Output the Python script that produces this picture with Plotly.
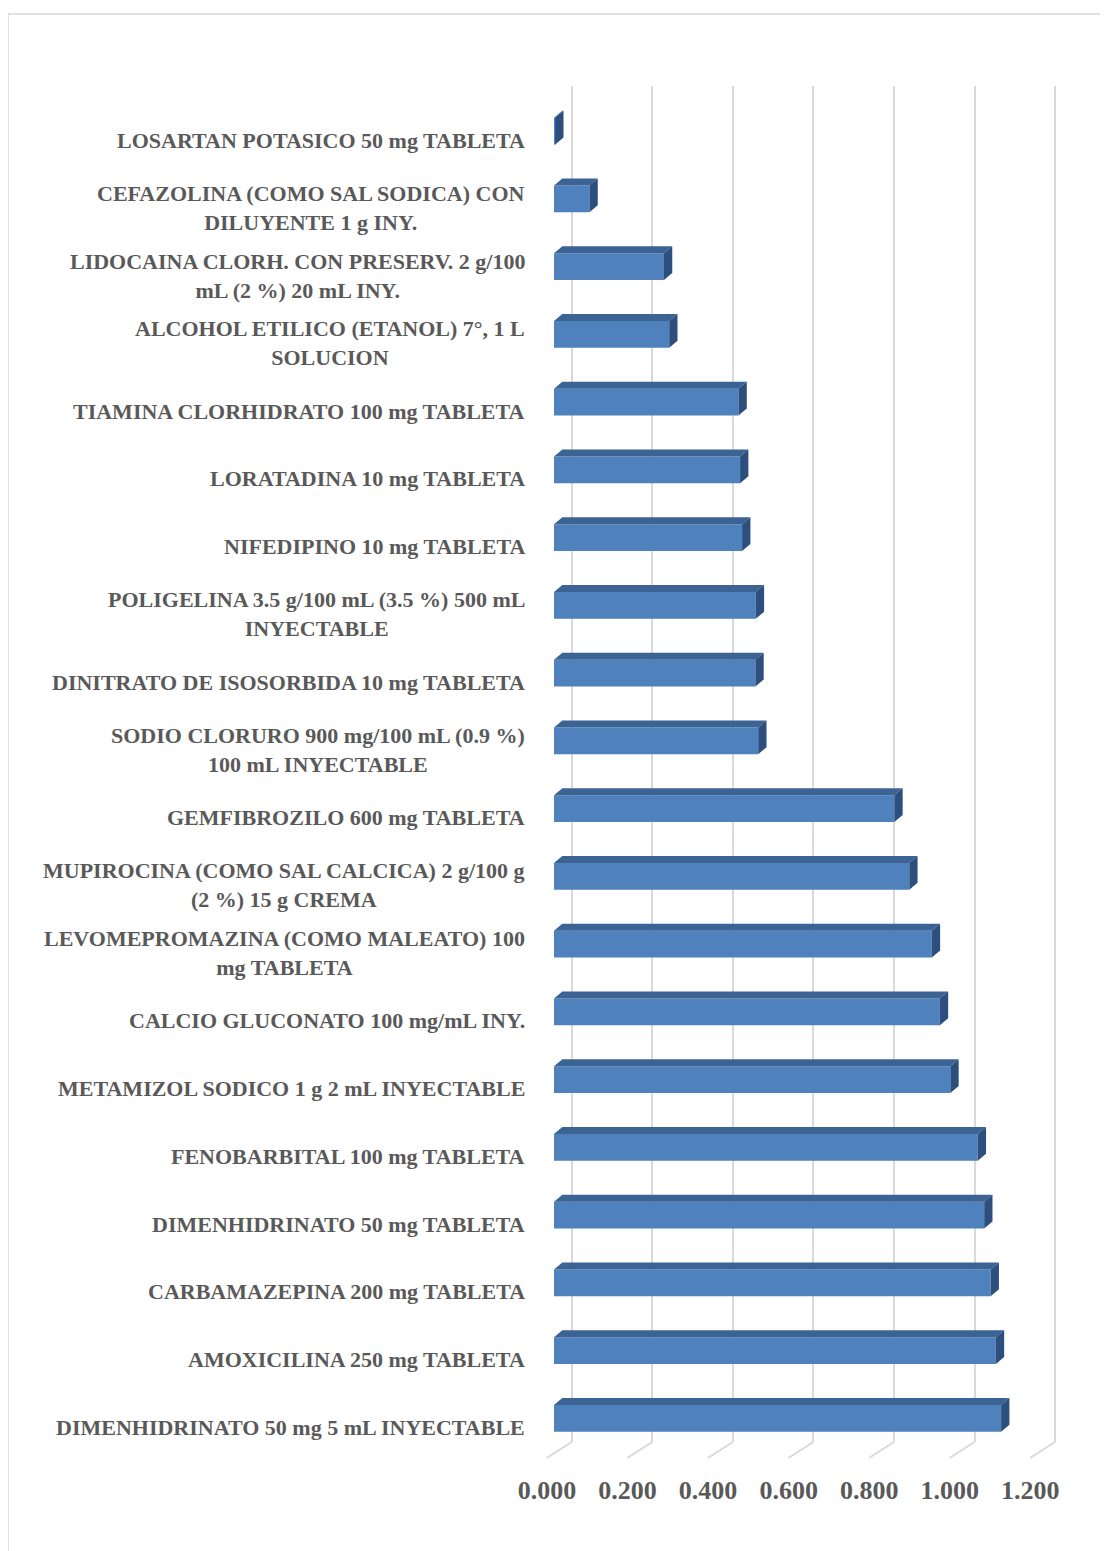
import plotly.graph_objects as go

# categories, top to bottom as shown
labels = [
    "LOSARTAN POTASICO 50 mg TABLETA",
    "CEFAZOLINA (COMO SAL SODICA) CON<br>DILUYENTE 1 g INY.",
    "LIDOCAINA CLORH. CON PRESERV. 2 g/100<br>mL (2 %) 20 mL INY.",
    "ALCOHOL ETILICO (ETANOL) 7°, 1 L<br>SOLUCION",
    "TIAMINA CLORHIDRATO 100 mg TABLETA",
    "LORATADINA 10 mg TABLETA",
    "NIFEDIPINO 10 mg TABLETA",
    "POLIGELINA 3.5 g/100 mL (3.5 %) 500 mL<br>INYECTABLE",
    "DINITRATO DE ISOSORBIDA 10 mg TABLETA",
    "SODIO CLORURO 900 mg/100 mL (0.9 %)<br>100 mL INYECTABLE",
    "GEMFIBROZILO 600 mg TABLETA",
    "MUPIROCINA (COMO SAL CALCICA) 2 g/100 g<br>(2 %) 15 g CREMA",
    "LEVOMEPROMAZINA (COMO MALEATO) 100<br>mg TABLETA",
    "CALCIO GLUCONATO 100 mg/mL INY.",
    "METAMIZOL SODICO 1 g 2 mL INYECTABLE",
    "FENOBARBITAL 100 mg TABLETA",
    "DIMENHIDRINATO 50 mg TABLETA",
    "CARBAMAZEPINA 200 mg TABLETA",
    "AMOXICILINA 250 mg TABLETA",
    "DIMENHIDRINATO 50 mg 5 mL INYECTABLE",
]
values = [0.003, 0.088, 0.273, 0.286, 0.458, 0.462, 0.467, 0.501, 0.500, 0.507,
          0.845, 0.882, 0.938, 0.958, 0.984, 1.052, 1.068, 1.084, 1.097, 1.110]
ticks = [0.0, 0.2, 0.4, 0.6, 0.8, 1.0, 1.2]

FRONT = "#4f81bd"
TOP = "#3b6394"
SIDE = "#2d4f7d"
GRID = "#d9d9d9"
FONT = "Liberation Serif"

# 3d geometry (pixels -> data units)
px_per_unit = 402.8
px_per_cat = 67.75
x0 = -8 / px_per_unit
x1 = x0 + 514 / px_per_unit
back_dx = 17.7 / px_per_unit
front_dx = -7.3 / px_per_unit
bar_h = 26.7 / px_per_cat
ddx = 8.3 / px_per_unit
ddy = 7 / px_per_cat
floor_drop = -16 / 1356

pos = list(range(len(values)))

fig = go.Figure()
fig.add_trace(go.Bar(x=values, y=pos, orientation="h", width=bar_h,
                     marker=dict(color=FRONT, line=dict(width=0)),
                     hoverinfo="skip"))

top_x, top_y, side_x, side_y = [], [], [], []
for v, p in zip(values, pos):
    yt = p - bar_h / 2
    yb = p + bar_h / 2
    top_x += [0, v, v + ddx, ddx, 0, None]
    top_y += [yt, yt, yt - ddy, yt - ddy, yt, None]
    side_x += [v, v + ddx, v + ddx, v, v, None]
    side_y += [yt, yt - ddy, yb - ddy, yb, yt, None]

fig.add_trace(go.Scatter(x=top_x, y=top_y, mode="lines", fill="toself",
                         fillcolor=TOP, line=dict(width=0), hoverinfo="skip"))
fig.add_trace(go.Scatter(x=side_x, y=side_y, mode="lines", fill="toself",
                         fillcolor=SIDE, line=dict(width=0), hoverinfo="skip"))
# dummy trace so the back-wall grid axis is drawn
fig.add_trace(go.Scatter(x=[0.5], y=[0], xaxis="x2", mode="markers",
                         marker=dict(opacity=0), hoverinfo="skip"))

# floor lines from back wall to front edge
for t in ticks:
    xb = (t + back_dx - x0) / (x1 - x0)
    xf = (t + front_dx - x0) / (x1 - x0)
    fig.add_shape(type="line", xref="paper", yref="paper",
                  x0=xb, y0=0, x1=xf, y1=floor_drop,
                  line=dict(color=GRID, width=2))

# category labels, centred lines, right edge aligned
for lab, p in zip(labels, pos):
    fig.add_annotation(text=lab, xref="paper", yref="y", x=-0.037, y=p + 0.133,
                       xanchor="right", yanchor="middle", align="center",
                       showarrow=False,
                       font=dict(family=FONT, size=22, color="#595959",
                                 weight="bold"))

# chart border
fig.add_shape(type="line", xref="paper", yref="paper",
              x0=-1.0467, y0=1.0531, x1=1.2, y1=1.0531,
              line=dict(color=GRID, width=1.5))
fig.add_shape(type="line", xref="paper", yref="paper",
              x0=-1.0467, y0=1.0531, x1=-1.0467, y1=-0.2,
              line=dict(color=GRID, width=1.5))

fig.update_layout(
    width=1100, height=1543,
    margin=dict(l=538, r=48, t=78, b=109),
    plot_bgcolor="white", paper_bgcolor="white",
    showlegend=False,
    xaxis=dict(range=[x0, x1], tickvals=ticks,
               ticktext=["%.3f" % t for t in ticks],
               showgrid=False, zeroline=False, showline=False, ticks="",
               ticklabelshift=-7, ticklabelstandoff=30,
               tickfont=dict(family=FONT, size=26, color="#595959",
                             weight="bold")),
    xaxis2=dict(range=[x0 - back_dx, x1 - back_dx], overlaying="x",
                anchor="y", tickvals=ticks, showticklabels=False,
                showgrid=True, gridcolor=GRID, gridwidth=2,
                zeroline=False, showline=False, ticks=""),
    yaxis=dict(range=[len(values) - 0.65, -0.667], showticklabels=False,
               showgrid=False, zeroline=False, showline=False),
)

fig.write_html("out.html")
